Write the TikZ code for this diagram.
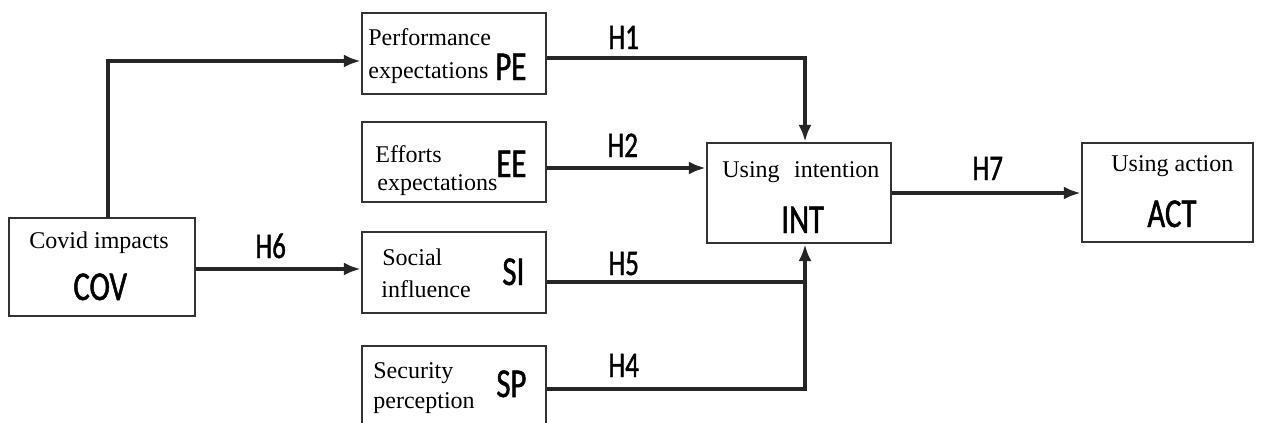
\documentclass[tikz,border=0pt]{standalone}
\usepackage{fontspec}
\setmainfont{Liberation Serif}
\newfontfamily\hf[FakeStretch=0.75,FakeBold=1.2]{Carlito}
\usetikzlibrary{arrows.meta}
\begin{document}
\begin{tikzpicture}[x=0.5pt,y=-0.5pt,
 box/.style={draw=black!80, line width=1.2pt, inner sep=0pt, fill=white},
 conn/.style={draw=black!85, line width=1.8pt},
 arr/.style={conn,-{Latex[length=8.5pt,width=6.5pt]}},
 txt/.style={anchor=base west, inner sep=0pt, font=\fontsize{12}{14}\selectfont},
 abbr/.style={anchor=base west, inner sep=0pt, font=\hf\fontsize{20.5}{22}\selectfont},
 hyp/.style={anchor=base west, inner sep=0pt, font=\hf\fontsize{18}{22}\selectfont}]
\useasboundingbox (0,0) rectangle (1264,423);
% boxes
\node[box, minimum width=92pt, minimum height=40.5pt] (PE) at (454,53.5) {};
\node[box, minimum width=92pt, minimum height=40pt] (EE) at (454,162) {};
\node[box, minimum width=92pt, minimum height=40.5pt] (SI) at (454,272.5) {};
\node[box, minimum width=92pt, minimum height=41pt] (SP) at (454,387) {};
\node[box, minimum width=93pt, minimum height=49pt] (COV) at (102,267) {};
\node[box, minimum width=92pt, minimum height=50pt] (INT) at (799,193) {};
\node[box, minimum width=85.5pt, minimum height=49.5pt] (ACT) at (1167.5,192.5) {};
% connectors
\coordinate (a) at (108,61);
\draw[arr] (COV.north -| a) |- (PE.west |- a);
\coordinate (b) at (805,58);
\draw[arr] (PE.east |- b) -| (INT.north -| b);
\coordinate (c) at (0,168);
\draw[arr] (EE.east |- c) -- (INT.west |- c);
\coordinate (d) at (0,269);
\draw[arr] (COV.east |- d) -- (SI.west |- d);
\coordinate (e) at (805,282);
\draw[conn] (SI.east |- e) -- (e);
\coordinate (f) at (805,389);
\draw[arr] (SP.east |- f) -| (INT.south -| f);
\coordinate (g) at (0,193);
\draw[arr] (INT.east |- g) -- (ACT.west |- g);
% texts
\node[txt] (tPE1) at (368,46) {Performance};
\node[txt] (tPE2) at (368,78) {expectations};
\node[abbr] (aPE) at (495,80) {PE};
\node[txt] (tEE1) at (375,162) {Efforts};
\node[txt] (tEE2) at (377,190) {expectations};
\node[abbr] (aEE) at (496,177) {EE};
\node[txt] (tSI1) at (382,265) {Social};
\node[txt] (tSI2) at (381,297) {influence};
\node[abbr] (aSI) at (502,285) {SI};
\node[txt] (tSP1) at (373,378) {Security};
\node[txt] (tSP2) at (373,408) {perception};
\node[abbr] (aSP) at (496,397) {SP};
\node[txt] (tCOV) at (29,248) {Covid impacts};
\node[abbr] (aCOV) at (73,300) {COV};
\node[txt] (tINT) at (722,177) {Using\hspace{0.6em}intention};
\node[abbr] (aINT) at (781,233) {INT};
\node[txt] (tACT) at (1111,171) {Using action};
\node[abbr] (aACT) at (1147,227) {ACT};
% hypotheses
\node[hyp] (h1) at (608,49) {H1};
\node[hyp] (h2) at (607,157) {H2};
\node[hyp] (h6) at (255,258) {H6};
\node[hyp] (h5) at (608,275) {H5};
\node[hyp] (h4) at (608,377) {H4};
\node[hyp] (h7) at (972,180) {H7};
\end{tikzpicture}
\end{document}
